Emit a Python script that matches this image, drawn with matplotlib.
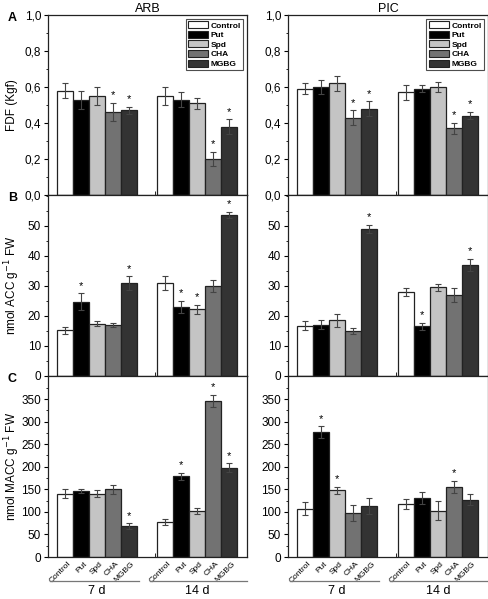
import matplotlib
matplotlib.use("Agg")
import matplotlib.pyplot as plt
import numpy as np
from matplotlib.ticker import MultipleLocator, FuncFormatter

plt.rcParams['font.family'] = ['Liberation Sans', 'DejaVu Sans']

treatments = ["Control", "Put", "Spd", "CHA", "MGBG"]
periods = ["7 d", "14 d"]
cultivars = ["ARB", "PIC"]
colors = ["#ffffff", "#000000", "#c4c4c4", "#727272", "#333333"]

# FDF (Kgf): [7d values..., 14d values...]
fdf_arb = [0.58, 0.53, 0.55, 0.46, 0.47, 0.55, 0.53, 0.51, 0.20, 0.38]
fdf_arb_err = [0.04, 0.05, 0.05, 0.05, 0.02, 0.05, 0.04, 0.03, 0.04, 0.04]
fdf_arb_sig = [0, 0, 0, 1, 1, 0, 0, 0, 1, 1]
fdf_pic = [0.59, 0.60, 0.62, 0.43, 0.48, 0.57, 0.59, 0.60, 0.37, 0.44]
fdf_pic_err = [0.03, 0.04, 0.04, 0.04, 0.04, 0.04, 0.02, 0.03, 0.03, 0.02]
fdf_pic_sig = [0, 0, 0, 1, 1, 0, 0, 0, 1, 1]

# ACC (nmol g-1 FW)
acc_arb = [15.2, 24.8, 17.4, 17.0, 31.0, 31.0, 23.0, 22.3, 30.0, 53.7]
acc_arb_err = [1.2, 2.7, 0.8, 0.7, 2.2, 2.2, 2.0, 1.5, 2.0, 1.1]
acc_arb_sig = [0, 1, 0, 0, 1, 0, 1, 1, 0, 1]
acc_pic = [16.8, 17.0, 18.6, 14.9, 49.1, 28.0, 16.6, 29.6, 26.9, 37.0]
acc_pic_err = [1.6, 1.5, 2.2, 1.0, 1.3, 1.4, 1.2, 1.2, 2.3, 2.1]
acc_pic_sig = [0, 0, 0, 0, 1, 0, 1, 0, 0, 1]

# MACC (nmol g-1 FW)
macc_arb = [140, 146, 140, 150, 68, 77, 179, 102, 346, 198]
macc_arb_err = [10, 5, 8, 10, 7, 7, 8, 6, 14, 10]
macc_arb_sig = [0, 0, 0, 0, 1, 0, 1, 0, 1, 1]
macc_pic = [107, 277, 148, 97, 113, 118, 131, 103, 155, 127]
macc_pic_err = [15, 13, 8, 18, 17, 11, 14, 20, 14, 12]
macc_pic_sig = [0, 1, 1, 0, 0, 0, 0, 0, 1, 0]

rows = [
    dict(data=[(fdf_arb, fdf_arb_err, fdf_arb_sig), (fdf_pic, fdf_pic_err, fdf_pic_sig)],
         ylim=1.0, minor=0.1, ticks=np.arange(0, 1.01, 0.2), ylabel="FDF (Kgf)",
         fmt=lambda v, p: ("%.1f" % v).replace(".", ","), letter="A", starpad=0.015),
    dict(data=[(acc_arb, acc_arb_err, acc_arb_sig), (acc_pic, acc_pic_err, acc_pic_sig)],
         ylim=60.3, minor=5, ticks=np.arange(0, 51, 10), ylabel="nmol ACC g$^{-1}$ FW",
         fmt=lambda v, p: "%d" % v, letter="B", starpad=0.8),
    dict(data=[(macc_arb, macc_arb_err, macc_arb_sig), (macc_pic, macc_pic_err, macc_pic_sig)],
         ylim=401, minor=25, ticks=np.arange(0, 351, 50), ylabel="nmol MACC g$^{-1}$ FW",
         fmt=lambda v, p: "%d" % v, letter="C", starpad=5),
]

W, H = 489, 599
fig = plt.figure(figsize=(W / 100, H / 100), dpi=100)

gap = 1.25
xpos = np.array([g * (5 + gap) + i for g in range(2) for i in range(5)])
col_x = [48, 288]
col_w = [199, 200]
row_top = [15, 195, 376]
row_h = [180, 181, 181]

for r, row in enumerate(rows):
    for c in range(2):
        vals, errs, sig = row["data"][c]
        ax = fig.add_axes([col_x[c] / W, (H - row_top[r] - row_h[r]) / H, col_w[c] / W, row_h[r] / H])
        bar_colors = [colors[i % 5] for i in range(10)]
        ax.bar(xpos, vals, width=1.0, color=bar_colors, edgecolor="#222222", linewidth=0.9, zorder=2)
        ax.errorbar(xpos, vals, yerr=errs, fmt="none", ecolor="#444444", elinewidth=0.8,
                    capsize=2, capthick=0.8, zorder=3)
        for x, v, e, s in zip(xpos, vals, errs, sig):
            if s:
                ax.text(x, v + e + row["starpad"], "*", ha="center", va="bottom", fontsize=8)
        ax.set_xlim(-1.06, 11.37)
        ax.set_ylim(0, row["ylim"])
        ax.set_yticks(row["ticks"])
        ax.yaxis.set_minor_locator(MultipleLocator(row["minor"]))
        ax.yaxis.set_major_formatter(FuncFormatter(row["fmt"]))
        ax.tick_params(axis="y", which="major", length=3, width=0.8, labelsize=8.5, pad=2)
        ax.tick_params(axis="y", which="minor", length=1.8, width=0.6)
        ax.set_xticks([2, 5 + gap / 2, 2 + 5 + gap], minor=True)
        ax.tick_params(axis="x", which="minor", direction="in", length=3, width=0.6)
        for sp in ax.spines.values():
            sp.set_linewidth(0.9)
            sp.set_color("#222222")
        if r == 2:
            ax.set_xticks(xpos + 0.15)
            ax.set_xticklabels(treatments * 2, rotation=45, ha="right", rotation_mode="anchor",
                               fontsize=6)
            ax.tick_params(axis="x", which="major", length=0, pad=2.5)
            for g, lab in enumerate(periods):
                x0 = xpos[g * 5] - 0.95
                x1 = xpos[g * 5 + 4] + 0.6 if g == 0 else 11.37
                ax.plot([x0, x1], [-0.135, -0.135], transform=ax.get_xaxis_transform(),
                        color="#777777", lw=0.9, clip_on=False)
                ax.text((xpos[g * 5] + xpos[g * 5 + 4]) / 2, -0.19, lab,
                        transform=ax.get_xaxis_transform(), ha="center", va="center", fontsize=9)
        else:
            ax.set_xticks([])
        if c == 0:
            ax.set_ylabel(row["ylabel"], fontsize=8.5, va="center", ha="center")
            ax.yaxis.set_label_coords(-0.18, 0.5)
            fig.text(8 / W, 1 - (row_top[r] + 3) / H, row["letter"], fontsize=9,
                     fontweight="bold", ha="left", va="center")
        if r == 0:
            ax.set_title(cultivars[c], fontsize=9, pad=2.5)
            handles = [plt.Rectangle((0, 0), 1, 1, facecolor=col, edgecolor="#222222", lw=0.8)
                       for col in colors]
            leg = ax.legend(handles, treatments, loc="upper right",
                            prop={"weight": "bold", "size": 6}, frameon=True, fancybox=False,
                            edgecolor="#222222", handlelength=2.4, handleheight=0.9,
                            handletextpad=0.3, labelspacing=0.15, borderpad=0.3,
                            borderaxespad=0.45)
            leg.get_frame().set_linewidth(0.8)

fig.savefig("out.png", dpi=100)
